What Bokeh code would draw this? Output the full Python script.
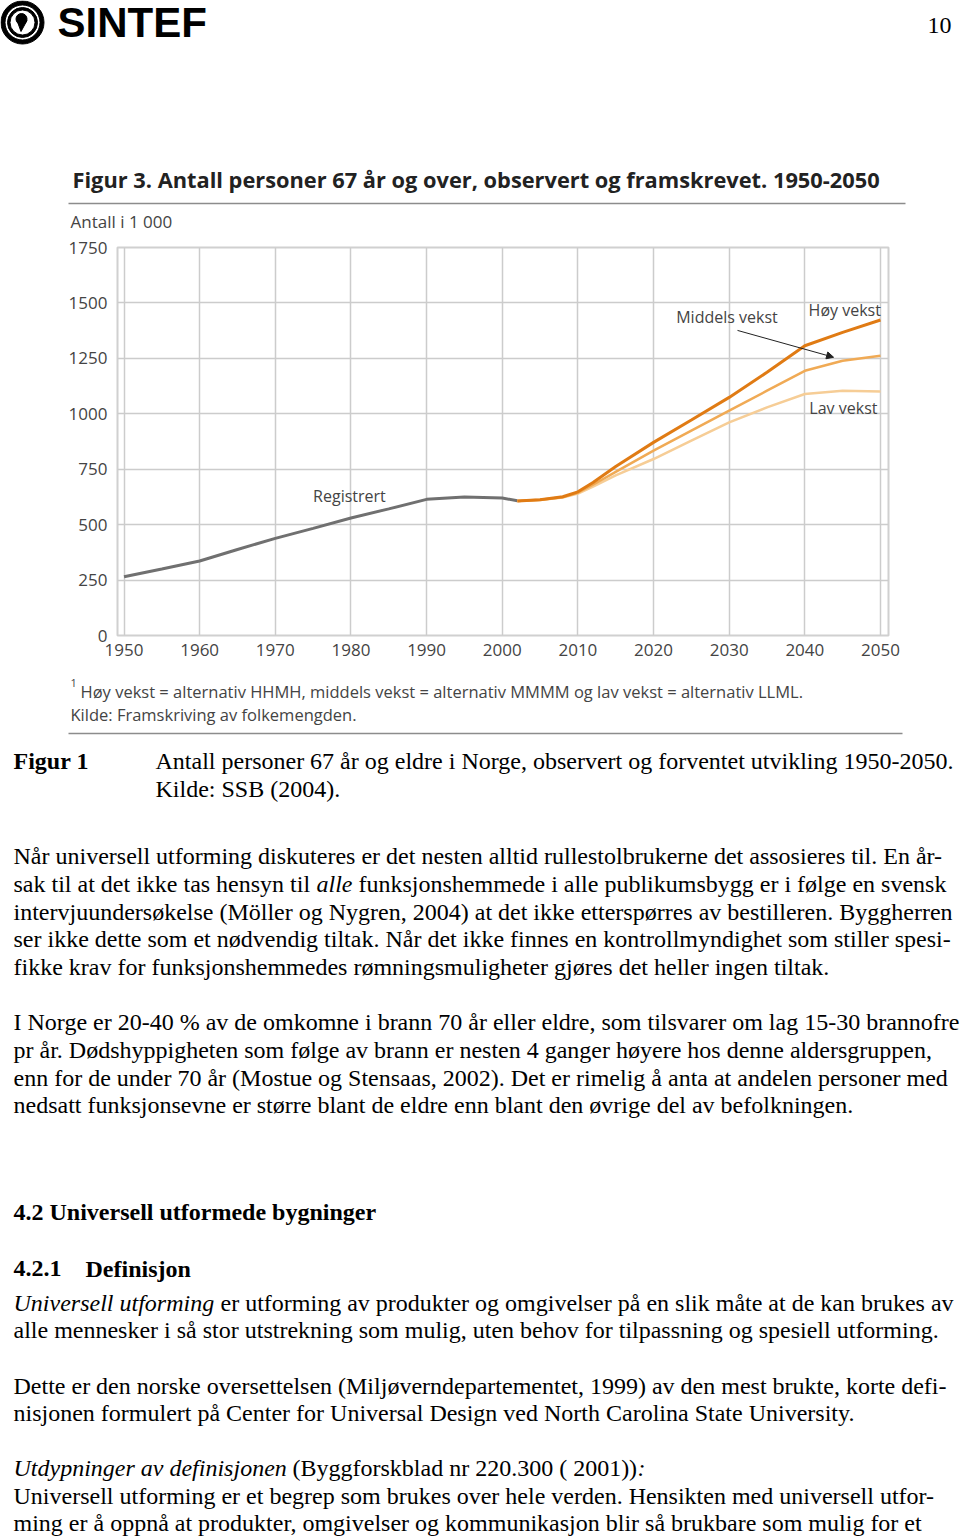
from bokeh.plotting import figure
from bokeh.models import Range1d, FixedTicker, Arrow, NormalHead
from bokeh.embed import file_html
from bokeh.resources import INLINE
from bokeh.core.properties import value

# ---------------- chart data (thousands of persons aged 67+) ----------------
REG_YEARS = [1950, 1955, 1960, 1965, 1970, 1975, 1980, 1985, 1990, 1995, 2000, 2002]
REG_VALUES = [265, 300, 336, 388, 438, 483, 530, 571, 614, 625, 620, 608]

PROJ_YEARS = [2002, 2005, 2008, 2010, 2012, 2015, 2020, 2025, 2030, 2035, 2040, 2045, 2050]
HIGH = [607, 612, 626, 648, 690, 762, 871, 972, 1074, 1187, 1307, 1367, 1423]
MIDDLE = [607, 612, 624, 644, 680, 738, 834, 924, 1014, 1104, 1194, 1239, 1262]
LOW = [607, 611, 622, 640, 672, 722, 796, 879, 961, 1029, 1089, 1104, 1100]

X_TICKS = [1950, 1960, 1970, 1980, 1990, 2000, 2010, 2020, 2030, 2040, 2050]
Y_TICKS = [0, 250, 500, 750, 1000, 1250, 1500, 1750]

CHART_TITLE = "Figur 3. Antall personer 67 år og over, observert og framskrevet. 1950-2050"
Y_UNIT = "Antall i 1 000"
FOOTNOTE = "Høy vekst = alternativ HHMH, middels vekst = alternativ MMMM og lav vekst = alternativ LLML."
SOURCE = "Kilde: Framskriving av folkemengden."

CAPTION_LABEL = "Figur 1"
CAPTION_LINES = ["Antall personer 67 år og eldre i Norge, observert og forventet utvikling 1950-2050.",
                 "Kilde: SSB (2004)."]
PARA1 = [
    "Når universell utforming diskuteres er det nesten alltid rullestolbrukerne det assosieres til. En år-",
    None,
    "intervjuundersøkelse (Möller og Nygren, 2004) at det ikke etterspørres av bestilleren. Byggherren",
    "ser ikke dette som et nødvendig tiltak. Når det ikke finnes en kontrollmyndighet som stiller spesi-",
    "fikke krav for funksjonshemmedes rømningsmuligheter gjøres det heller ingen tiltak.",
]
PARA2 = [
    "I Norge er 20-40 % av de omkomne i brann 70 år eller eldre, som tilsvarer om lag 15-30 brannofre",
    "pr år. Dødshyppigheten som følge av brann er nesten 4 ganger høyere hos denne aldersgruppen,",
    "enn for de under 70 år (Mostue og Stensaas, 2002). Det er rimelig å anta at andelen personer med",
    "nedsatt funksjonsevne er større blant de eldre enn blant den øvrige del av befolkningen.",
]

W = 960
SERIF = value("Liberation Serif")
SANS = value("Open Sans")


def page_fig(top, bottom):
    f = figure(width=W, height=bottom - top, x_range=Range1d(0, W), y_range=Range1d(bottom, top),
               output_backend="svg", toolbar_location=None, x_axis_location=None,
               y_axis_location=None, min_border=0, outline_line_color=None)
    f.grid.visible = False
    f.background_fill_color = "white"
    f.border_fill_color = "white"
    return f


# ---------------- header ----------------
h = page_fig(0, 236)

# SINTEF logo (rings + comma)
h.annulus(x=[22], y=[22], inner_radius=17.5, outer_radius=21.5, color="black")
h.annulus(x=[22], y=[22], inner_radius=12.5, outer_radius=15.0, color="black")
h.circle(x=[21], y=[18.5], radius=5.5, color="black")
h.patch([16.5, 26.5, 20.5], [20, 20, 31], color="black")
h.text(x=[57], y=[22], text=["SINTEF"], text_font=value("Liberation Sans"),
       text_font_style="bold", text_font_size="42px", text_color="black",
       text_baseline="alphabetic")
h.text(x=[951], y=[25], text=["10"], text_font=SERIF, text_font_size="24px",
       text_align="right", text_baseline="alphabetic", text_color="black")

h.text(x=[72], y=[179], text=[CHART_TITLE], text_font=SANS, text_font_style="bold",
       text_font_size="21.8px", text_color="#222222", text_baseline="alphabetic")
h.segment(x0=[68], y0=[203], x1=[905], y1=[203], line_color="#8c8c8c", line_width=1.5)
h.text(x=[70], y=[221], text=[Y_UNIT], text_font=SANS, text_font_size="17px",
       text_color="#444444", text_baseline="alphabetic")

# ---------------- chart ----------------
c = figure(width=W, height=436, x_range=Range1d(1949.14, 2051.06), y_range=Range1d(0, 1750),
           output_backend="svg", toolbar_location=None,
           min_border_left=117, min_border_right=72, min_border_top=11, min_border_bottom=37)
c.background_fill_color = "white"
c.border_fill_color = "white"
c.outline_line_color = "#d0d0d0"
c.outline_line_width = 2
c.xaxis.ticker = FixedTicker(ticks=X_TICKS)
c.yaxis.ticker = FixedTicker(ticks=Y_TICKS)
for ax in (c.xaxis, c.yaxis):
    ax.axis_line_color = None
    ax.major_tick_line_color = None
    ax.minor_tick_line_color = None
    ax.major_label_text_font = "Open Sans"
    ax.major_label_text_font_size = "17px"
    ax.major_label_text_color = "#444444"
c.xaxis.major_label_standoff = 2
c.yaxis.major_label_standoff = 4
c.grid.grid_line_color = "#cccccc"
c.grid.grid_line_width = 1.5

c.line(REG_YEARS, REG_VALUES, line_color="#707070", line_width=3)
c.line(PROJ_YEARS, LOW, line_color="#f6cd96", line_width=2.5)
c.line(PROJ_YEARS, MIDDLE, line_color="#f0aa55", line_width=2.5)
c.line(PROJ_YEARS, HIGH, line_color="#e07b14", line_width=3)

lab_kw = dict(text_font=SANS, text_font_size="16px", text_color="#444444", text_baseline="middle")
c.text(x=[1975.0], y=[631], text=["Registrert"], **lab_kw)
c.text(x=[2023.0], y=[1438], text=["Middels vekst"], **lab_kw)
c.text(x=[2040.5], y=[1469], text=["Høy vekst"], **lab_kw)
c.text(x=[2040.6], y=[1027], text=["Lav vekst"], **lab_kw)
c.add_layout(Arrow(end=NormalHead(size=7, fill_color="#222222", line_color="#222222"),
                   x_start=2031.1, y_start=1376, x_end=2043.8, y_end=1255,
                   line_color="#222222", line_width=1))

# ---------------- page text ----------------
t = page_fig(672, 1536)

t.text(x=[70], y=[682], text=["1"], text_font=SANS, text_font_size="11px",
       text_color="#444444", text_baseline="alphabetic")
t.text(x=[80, 70], y=[691, 714], text=[FOOTNOTE, SOURCE], text_font=SANS,
       text_font_size="16.5px", text_color="#444444", text_baseline="alphabetic")
t.segment(x0=[68], y0=[733], x1=[902], y1=[733], line_color="#8c8c8c", line_width=1.5)

body = dict(text_font=SERIF, text_font_size="24px", text_color="black", text_baseline="alphabetic")
bold = dict(body, text_font_style="bold")
ital = dict(body, text_font_style="italic")

t.text(x=[13], y=[760], text=[CAPTION_LABEL], **bold)
t.text(x=[155, 155], y=[760, 788], text=CAPTION_LINES, **body)

p1_y = [855, 883, 911, 938, 966]
t.text(x=[13, 13, 13, 13], y=[p1_y[0], p1_y[2], p1_y[3], p1_y[4]],
       text=[PARA1[0], PARA1[2], PARA1[3], PARA1[4]], **body)
t.text(x=[13, 358], y=[p1_y[1], p1_y[1]],
       text=["sak til at det ikke tas hensyn til",
             "funksjonshemmede i alle publikumsbygg er i følge en svensk"], **body)
t.text(x=[316], y=[p1_y[1]], text=["alle"], **ital)

t.text(x=[13] * 4, y=[1021, 1049, 1077, 1104], text=PARA2, **body)

t.text(x=[13, 13, 85], y=[1211, 1268, 1268],
       text=["4.2 Universell utformede bygninger", "4.2.1", "Definisjon"], **bold)
t.text(x=[13], y=[1302], text=["Universell utforming"], **ital)
t.text(x=[220, 13], y=[1302, 1329],
       text=["er utforming av produkter og omgivelser på en slik måte at de kan brukes av",
             "alle mennesker i så stor utstrekning som mulig, uten behov for tilpassning og spesiell utforming."],
       **body)
t.text(x=[13, 13], y=[1385, 1412],
       text=["Dette er den norske oversettelsen (Miljøverndepartementet, 1999) av den mest brukte, korte defi-",
             "nisjonen formulert på Center for Universal Design ved North Carolina State University."],
       **body)
t.text(x=[13, 637], y=[1467, 1467], text=["Utdypninger av definisjonen", ":"], **ital)
t.text(x=[292], y=[1467], text=["(Byggforskblad nr 220.300 ( 2001))"], **body)
t.text(x=[13, 13], y=[1495, 1522],
       text=["Universell utforming er et begrep som brukes over hele verden. Hensikten med universell utfor-",
             "ming er å oppnå at produkter, omgivelser og kommunikasjon blir så brukbare som mulig for et"],
       **body)

open("out.html", "w").write(file_html([h, c, t], INLINE))
